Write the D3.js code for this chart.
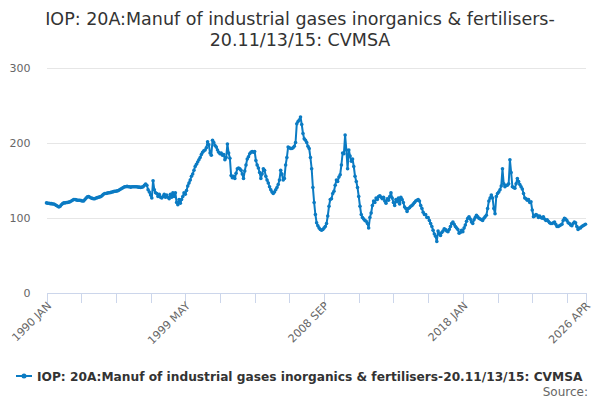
<!DOCTYPE html>
<html>
<head>
<meta charset="utf-8">
<script src="https://cdn.jsdelivr.net/npm/d3@7"></script>
<style>
  html, body { margin: 0; padding: 0; background: #fff; }
  svg { display: block; font-family: "DejaVu Sans", sans-serif; }
</style>
</head>
<body>
<svg id="chart" width="600" height="400"></svg>
<script>
const titleLines = ["IOP: 20A:Manuf of industrial gases inorganics & fertilisers-", "20.11/13/15: CVMSA"];
const seriesName = "IOP: 20A:Manuf of industrial gases inorganics & fertilisers-20.11/13/15: CVMSA";
const startYear = 1990;
const monthNames = ["JAN","FEB","MAR","APR","MAY","JUN","JUL","AUG","SEP","OCT","NOV","DEC"];
const yTicks = [0, 100, 200, 300];
const xLabelTicks = ["1990 JAN", "1999 MAY", "2008 SEP", "2018 JAN", "2026 APR"];
const values = [
  119.5,119,119,118.5,118.5,118,118,117,116,115,114,115,
  117,118.5,119.5,119.5,120,120,120.5,121,122,123,124,124,
  123.5,123,123,123,122.5,122,122,124,126,127.5,128,127,
  126,125.5,125,125,126,126.5,127,127.5,128,129.5,131,132,
  132,132.5,133,133,133.5,134,134.5,135,135,135.5,136,137,
  138,139,140,141,141,141.5,141,141,140.5,141,141,141,
  141,141,140.5,140.5,140,140.5,141,143,144.5,143,137,134,
  130,126,149,137,133,132,128,131,127,126,128,131,
  127,130,127,125,131,127,133,128,133,120,117,124,
  119,124,128,133,131,136,142,146,150,155,158,163,
  168,171,174,177,180,184,187,189,190,193,201,197,
  186,183,203,200,196,194,190,187,185,186,183,184,
  177,180,198,186,179,156,153,155,152,159,165,166,
  165,163,158,152,162,170,178,181,185,187,188,187,
  188,176,170,166,160,152,158,165,163,155,150,146,
  141,137,134,132,134,137,140,144,150,163,158,150,
  152,170,180,194,193,192,192,193,195,200,225,228,
  230,234,224,212,205,203,200,195,192,180,165,140,
  120,104,93,89,86,84,83,84,86,88,92,102,
  115,124,125,132,135,143,150,148,154,157,170,186,
  185,210,190,165,190,182,175,178,168,155,148,140,
  128,115,104,100,98,96,95,92,86,100,106,116,
  122,120,126,124,128,129,127,125,127,122,119,125,
  123,128,133,126,120,116,124,121,126,118,127,124,
  120,114,112,108,112,113,115,116,118,120,122,123,
  124,122,116,112,107,104,104,100,100,96,92,88,
  83,78,75,68,82,78,76,80,82,85,84,82,
  81,84,88,92,94,91,88,86,84,79,80,83,
  81,86,90,95,99,101,98,94,92,97,100,103,
  101,99,98,97,96,99,101,103,112,122,126,130,
  126,112,105,128,132,134,137,142,165,145,141,143,
  143,145,177,160,141,140,139,145,152,148,144,141,
  138,132,126,125,123,124,120,121,110,101,102,104,
  103,100,102,100,99,101,98,96,97,95,93,92,
  92,93,94,91,88,88,89,90,91,96,99,98,
  96,93,92,90,89,92,94,93,88,84,86,86,
  88,89,90,91
];
const categories = values.map((v, i) => (startYear + Math.floor(i / 12)) + " " + monthNames[i % 12]);
const data = values.map((v, i) => ({ cat: categories[i], value: v }));

const color = "#0b7bc3";
const svg = d3.select("#chart");
const plotLeft = 46.5, plotRight = 585.5, plotTop = 67, plotBottom = 292.5;

const x = d3.scalePoint().domain(categories).range([plotLeft, plotRight]);
const y = d3.scaleLinear().domain([0, 300]).range([plotBottom, plotTop + 0.5]);

// title
const title = svg.append("text")
  .attr("text-anchor", "middle")
  .attr("fill", "#333333")
  .style("font-size", "17.5px");
titleLines.forEach((t, i) => {
  title.append("tspan").attr("x", 300).attr("y", 25 + i * 21).text(t);
});

// grid
const yAxis = d3.axisLeft(y).tickValues(yTicks).tickSize(-(plotRight - plotLeft)).tickPadding(16);
const gy = svg.append("g").attr("transform", `translate(${plotLeft},0)`).call(yAxis);
gy.select(".domain").remove();
gy.selectAll(".tick line").attr("stroke", "#e6e6e6").attr("shape-rendering", "crispEdges");
gy.selectAll(".tick text").attr("fill", "#666666").style("font-size", "11px")
  .attr("font-family", "DejaVu Sans, sans-serif");
gy.selectAll(".tick").filter(d => d === 0).select("line").remove();

// x axis
const tickCats = categories.filter((c, i) => i % 28 === 0).concat([categories[categories.length - 1]]);
const xAxis = d3.axisBottom(x).tickValues(tickCats).tickSize(10).tickSizeOuter(0)
  .tickFormat(d => xLabelTicks.includes(d) ? d : "");
const gx = svg.append("g").attr("transform", `translate(0,${plotBottom})`).call(xAxis);
gx.select(".domain").attr("stroke", "#ccd6eb").attr("shape-rendering", "crispEdges");
gx.selectAll(".tick line").attr("stroke", "#ccd6eb").attr("shape-rendering", "crispEdges");
gx.selectAll(".tick text")
  .attr("fill", "#666666").style("font-size", "11px")
  .attr("font-family", "DejaVu Sans, sans-serif")
  .attr("text-anchor", "end")
  .attr("dy", null).attr("y", 0)
  .attr("transform", "translate(5,14) rotate(-45)");

// line
const line = d3.line().x(d => x(d.cat)).y(d => y(d.value));
svg.append("path").datum(data)
  .attr("fill", "none").attr("stroke", color).attr("stroke-width", 2)
  .attr("stroke-linejoin", "round").attr("d", line);
svg.append("g").selectAll("circle").data(data).join("circle")
  .attr("cx", d => x(d.cat)).attr("cy", d => y(d.value)).attr("r", 1.8)
  .attr("fill", color);

// legend
const lg = svg.append("g");
lg.append("line").attr("x1", 16).attr("x2", 32).attr("y1", 376).attr("y2", 376)
  .attr("stroke", color).attr("stroke-width", 2);
lg.append("circle").attr("cx", 24).attr("cy", 376).attr("r", 2.5).attr("fill", color);
lg.append("text").attr("x", 37).attr("y", 380.5)
  .attr("fill", "#333333").style("font-size", "12.2px").style("font-weight", "bold")
  .text(seriesName);

svg.append("text").attr("x", 588).attr("y", 395.5).attr("text-anchor", "end")
  .attr("fill", "#666666").style("font-size", "12px").text("Source:");
</script>
</body>
</html>
